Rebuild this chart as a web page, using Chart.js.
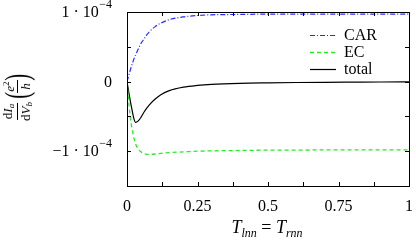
<!DOCTYPE html>
<html>
<head>
<meta charset="utf-8">
<script src="https://cdn.jsdelivr.net/npm/chart.js@4/dist/chart.umd.min.js"></script>
<style>
  html, body { margin:0; padding:0; background:#fff; }
  #wrap { position:relative; width:416px; height:241px; overflow:hidden; }
  canvas { position:absolute; left:0; top:0; }
  .lab { position:absolute; font-family:"Liberation Serif","DejaVu Serif",serif; color:#000; white-space:nowrap; line-height:1; }
  #xlab { left:267px; top:228px; transform:translate(-50%,-50%); font-size:18px; font-style:italic; }
  #xlab sub { font-size:12px; vertical-align:-4px; }
  #ylab { left:17px; top:98px; transform:translate(-50%,-50%) rotate(-90deg); display:flex; align-items:center; }
  .frac { display:inline-flex; flex-direction:column; align-items:center; font-size:13px; }
  .frac .num { border-bottom:1px solid #000; padding:0 1px 1px 1px; }
  .frac .den { padding-top:1px; }
  .frac i { font-style:italic; }
  .frac sub { font-size:9px; vertical-align:-2px; font-style:italic; }
  .frac sup { font-size:9px; vertical-align:5px; }
  .paren { font-size:34px; transform:scaleX(0.6); display:inline-block; margin:0 -3px; font-weight:normal; }
  .ov { text-decoration:overline; }
</style>
</head>
<body>
<div id="wrap">
  <canvas id="c" width="416" height="241"></canvas>
  <div id="ylab" class="lab">
    <span class="frac"><span class="num">d<i class="ov">I</i><sub>a</sub></span><span class="den">d<i>V</i><sub>b</sub></span></span>
    <span style="display:inline-block;width:4px"></span>
    <span class="paren">(</span><span class="frac"><span class="num"><i>e</i><sup>2</sup></span><span class="den"><i>h</i></span></span><span class="paren">)</span>
  </div>
  <div id="xlab" class="lab">T<sub>lnn</sub><span style="font-style:normal"> = </span>T<sub>rnn</sub></div>
</div>
<script>
// Data (y values in units of 1e-4 e^2/h)
const T = [0, 0.005, 0.01, 0.015, 0.02, 0.025, 0.03, 0.04, 0.05, 0.06, 0.07, 0.08, 0.1, 0.12, 0.15, 0.2, 0.25, 0.3, 0.4, 0.5, 0.6, 0.7, 0.8, 0.9, 1];
const CAR = [0, 0.07, 0.14, 0.21, 0.27, 0.33, 0.38, 0.47, 0.55, 0.61, 0.67, 0.72, 0.79, 0.84, 0.89, 0.93, 0.95, 0.96, 0.965, 0.97, 0.97, 0.97, 0.97, 0.97, 0.97];
const EC = [0, -0.24, -0.45, -0.61, -0.72, -0.82, -0.89, -0.97, -1.01, -1.035, -1.045, -1.045, -1.04, -1.03, -1.02, -1.01, -1.0, -0.995, -0.99, -0.985, -0.985, -0.98, -0.98, -0.98, -0.98];
const TOTAL = [0, -0.12, -0.24, -0.35, -0.45, -0.54, -0.585, -0.565, -0.51, -0.44, -0.38, -0.33, -0.25, -0.19, -0.13, -0.08, -0.055, -0.04, -0.025, -0.018, -0.013, -0.01, -0.008, -0.006, -0.005];
const seriesNames = ['CAR', 'EC', 'total'];

const xTickValues = [0, 0.125, 0.25, 0.375, 0.5, 0.625, 0.75, 0.875, 1];
const xTickLabels = ['0', '', '0.25', '', '0.5', '', '0.75', '', '1'];
const yTickValues = [-1.5, -1, -0.5, 0, 0.5, 1];
const yTickLabels = [['', ''], ['\u22121 \u00b7 10', '\u22124'], ['', ''], ['0', ''], ['', ''], ['1 \u00b7 10', '\u22124']];

const pts = arr => T.map((t, i) => ({x: t, y: arr[i]}));
const FONT = '"Liberation Serif","DejaVu Serif",serif';

const framePlugin = {
  id: 'frame',
  afterDatasetsDraw(chart) {
    const ctx = chart.ctx, a = chart.chartArea;
    const xs = chart.scales.x, ys = chart.scales.y;
    ctx.save();
    ctx.strokeStyle = '#000';
    ctx.lineWidth = 1;
    ctx.strokeRect(Math.round(a.left) + 0.5, Math.round(a.top) + 0.5, Math.round(a.right - a.left), Math.round(a.bottom - a.top));
    const L = 4;
    ctx.beginPath();
    xTickValues.forEach(v => {
      const px = Math.round(xs.getPixelForValue(v)) + 0.5;
      ctx.moveTo(px, a.bottom); ctx.lineTo(px, a.bottom - L);
      ctx.moveTo(px, a.top); ctx.lineTo(px, a.top + L);
    });
    yTickValues.forEach(v => {
      const py = Math.round(ys.getPixelForValue(v)) + 0.5;
      ctx.moveTo(a.left, py); ctx.lineTo(a.left + L, py);
      ctx.moveTo(a.right, py); ctx.lineTo(a.right - L, py);
    });
    ctx.stroke();
    // x tick labels
    ctx.fillStyle = '#000';
    ctx.font = '16px ' + FONT;
    ctx.textAlign = 'center';
    ctx.textBaseline = 'middle';
    xTickValues.forEach((v, i) => {
      if (xTickLabels[i]) ctx.fillText(xTickLabels[i], xs.getPixelForValue(v), 207);
    });
    // y tick labels with superscript
    const rightX = 112;
    yTickValues.forEach((v, i) => {
      const [base, exp] = yTickLabels[i];
      if (!base) return;
      const py = ys.getPixelForValue(v);
      let x = rightX;
      ctx.textAlign = 'right';
      if (exp) {
        ctx.font = '12px ' + FONT;
        ctx.textBaseline = 'middle';
        ctx.fillText(exp, x, py - 7);
        x -= ctx.measureText(exp).width + 0.5;
      }
      ctx.font = '16px ' + FONT;
      ctx.textBaseline = 'middle';
      ctx.fillText(base, x, py + 1);
    });
    // legend
    const rows = [35, 52, 69];
    chart.data.datasets.forEach((ds, i) => {
      const y = rows[i] + 0.5;
      ctx.save();
      ctx.strokeStyle = ds.borderColor;
      ctx.lineWidth = ds.borderWidth;
      ctx.setLineDash(ds.borderDash || []);
      ctx.beginPath(); ctx.moveTo(310, y); ctx.lineTo(336, y); ctx.stroke();
      ctx.restore();
      ctx.fillStyle = '#000';
      ctx.font = '16px ' + FONT;
      ctx.textAlign = 'left';
      ctx.textBaseline = 'middle';
      ctx.fillText(seriesNames[i], 344, rows[i] + 1);
    });
    ctx.restore();
  }
};

new Chart(document.getElementById('c'), {
  type: 'line',
  data: {
    datasets: [
      { label: seriesNames[0], data: pts(CAR), borderColor: '#2a2aff', borderWidth: 1.2, borderDash: [5, 2, 1, 2], pointRadius: 0, cubicInterpolationMode: 'monotone', fill: false },
      { label: seriesNames[1], data: pts(EC), borderColor: '#22ee22', borderWidth: 1.3, borderDash: [4, 3], pointRadius: 0, cubicInterpolationMode: 'monotone', fill: false },
      { label: seriesNames[2], data: pts(TOTAL), borderColor: '#000', borderWidth: 1.2, pointRadius: 0, cubicInterpolationMode: 'monotone', fill: false }
    ]
  },
  options: {
    responsive: false,
    devicePixelRatio: 1,
    animation: false,
    layout: { padding: { top: 12, right: 7, left: 0, bottom: 0 } },
    plugins: { legend: { display: false }, tooltip: { enabled: false } },
    scales: {
      x: { type: 'linear', min: 0, max: 1, grid: { display: false }, border: { display: false }, ticks: { display: false },
           afterFit: s => { s.height = 55; } },
      y: { type: 'linear', min: -1.5, max: 1, grid: { display: false }, border: { display: false }, ticks: { display: false },
           afterFit: s => { s.width = 127; } }
    }
  },
  plugins: [framePlugin]
});
</script>
</body>
</html>
